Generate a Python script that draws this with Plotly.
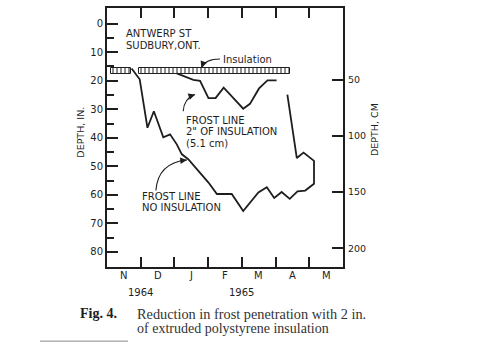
import plotly.graph_objects as go

# ---- data (x in months since 1 Nov 1964, depth in inches) ----
month_labels = ["N", "D", "J", "F", "M", "A", "M"]
year_labels = ["1964", "1965"]
year_pos = [1.0, 4.0]
depth_ticks_in = [0, 10, 20, 30, 40, 50, 60, 70, 80]
depth_minor_in = [5, 15, 25, 35, 45, 55, 65, 75]
depth_ticks_cm = [50, 100, 150, 200]

no_ins_month = [0.73, 0.97, 1.20, 1.39, 1.67, 1.87, 2.07, 2.22, 2.41, 2.71, 3.01, 3.26,
                3.70, 4.04, 4.27, 4.49, 4.74, 4.96, 5.18, 5.42, 5.65, 5.88, 6.14, 6.14,
                5.83, 5.63, 5.35]
no_ins_depth = [15.7, 19.5, 36.5, 30.7, 39.8, 38.8, 42.3, 45.8, 47.5, 51.6, 55.7, 59.7,
                59.7, 65.7, 62.4, 59.2, 57.3, 61.1, 59.0, 61.4, 58.8, 58.5, 56.1, 48.1,
                45.2, 47.1, 24.9]

ins_month = [2.07, 2.37, 2.56, 2.76, 3.01, 3.22, 3.46, 3.75, 4.04, 4.24, 4.51, 4.76, 5.03]
ins_depth = [17.4, 18.8, 19.7, 20.0, 26.1, 26.1, 22.4, 26.1, 29.8, 28.1, 22.7, 19.9, 19.9]

band_start = [0.12, 0.95]
band_end = [0.71, 5.43]
band_top = 15.6
band_bottom = 17.5

Y_RANGE = [85.3, -5.5]
INK = "#1e1e1e"
SANS = "DejaVu Sans, Liberation Sans, Arial, sans-serif"

fig = go.Figure()

# insulation band (hatched)
fig.add_trace(go.Bar(
    orientation="h",
    y=[(band_top + band_bottom) / 2] * len(band_start),
    x=[e - s for s, e in zip(band_start, band_end)],
    base=band_start,
    width=band_bottom - band_top,
    marker=dict(color="white", line=dict(color=INK, width=1),
                pattern=dict(shape="|", size=4, solidity=0.25,
                             fgcolor=INK, bgcolor="white", fillmode="replace")),
    showlegend=False, hoverinfo="skip",
))

fig.add_trace(go.Scatter(x=no_ins_month, y=no_ins_depth, mode="lines",
                         line=dict(color=INK, width=1.8), showlegend=False))
fig.add_trace(go.Scatter(x=ins_month, y=ins_depth, mode="lines",
                         line=dict(color=INK, width=1.8), showlegend=False))
# dummy trace to activate the cm axis
fig.add_trace(go.Scatter(x=[None], y=[None], yaxis="y2", showlegend=False))

annotations = []
def txt(x, y, t, xanchor="left", size=10, xref="x", yref="y", family=SANS, angle=0):
    annotations.append(dict(x=x, y=y, xref=xref, yref=yref, text=t, showarrow=False,
                            xanchor=xanchor, yanchor="middle", textangle=angle,
                            font=dict(family=family, size=size, color=INK)))

txt(0.50, 3.5, "ANTWERP ST")
txt(0.50, 7.5, "SUDBURY,ONT.")
txt(3.38, 12.4, "Insulation")
txt(2.29, 33.8, "FROST LINE")
txt(2.29, 37.7, "2\" OF INSULATION")
txt(2.29, 41.9, "(5.1 cm)")
txt(0.98, 60.5, "FROST LINE")
txt(0.98, 64.3, "NO INSULATION")

# month and year labels
for i, m in enumerate(month_labels):
    txt(i + 0.5, -0.031, m, xanchor="center", yref="paper")
for p, yl in zip(year_pos, year_labels):
    txt(p, -0.098, yl, xanchor="center", yref="paper")

# axis titles
txt(-0.114, 0.519, "DEPTH, IN.", xanchor="center", xref="paper", yref="paper", size=9.5, angle=-90)
txt((375 - 107) / 236, 0.529, "DEPTH, CM", xanchor="center", xref="paper", yref="paper", size=9.5, angle=-90)

# caption
SERIF = "Liberation Serif, Times New Roman, serif"
annotations.append(dict(x=(119 - 107) / 236, y=(267 - 314) / 261, xref="paper", yref="paper",
                        text="<b>Fig. 4.</b>", showarrow=False, xanchor="right", yanchor="middle",
                        font=dict(family=SERIF, size=14, color=INK)))
annotations.append(dict(x=(135 - 107) / 236, y=(267 - 314) / 261, xref="paper", yref="paper",
                        text="Reduction in frost penetration with 2 in.", showarrow=False,
                        xanchor="left", yanchor="middle",
                        font=dict(family=SERIF, size=14.3, color="#333")))
annotations.append(dict(x=(135 - 107) / 236, y=(267 - 329) / 261, xref="paper", yref="paper",
                        text="of extruded polystyrene insulation", showarrow=False,
                        xanchor="left", yanchor="middle",
                        font=dict(family=SERIF, size=14, color="#333")))

# leader curves (start, control, end) and arrowheads
leaders = [
    ((3.35, 12.4), (2.91, 12.4), (2.80, 15.5), (2.8, -7.5)),
    ((2.26, 30.7), (2.28, 26.2), (2.61, 24.8), (-7.5, 2.7)),
    ((1.45, 58.5), (1.51, 48.8), (2.37, 47.8), (-8.0, 0.8)),
]
shapes = []
for s, c, e, off in leaders:
    shapes.append(dict(type="path", xref="x", yref="y",
                       path=f"M {s[0]},{s[1]} Q {c[0]},{c[1]} {e[0]},{e[1]}",
                       line=dict(color=INK, width=1.1)))
    annotations.append(dict(x=e[0], y=e[1], xref="x", yref="y", ax=off[0], ay=off[1],
                            text="", showarrow=True, arrowhead=2, arrowsize=1.2,
                            arrowwidth=1.1, arrowcolor=INK))

shapes.append(dict(type="line", xref="paper", yref="paper",
                   x0=(40 - 107) / 236, x1=(128 - 107) / 236,
                   y0=(267 - 341.7) / 261, y1=(267 - 341.7) / 261,
                   line=dict(color="#888", width=1)))

fig.update_layout(
    width=492, height=349,
    margin=dict(l=107, r=149, t=6, b=82),
    paper_bgcolor="white", plot_bgcolor="white",
    showlegend=False, bargap=0,
    annotations=annotations, shapes=shapes,
    xaxis=dict(range=[0, 7], tickvals=[1, 2, 3, 4, 5, 6], ticks="inside", ticklen=10,
               tickwidth=1.5, tickcolor=INK, showticklabels=False, showgrid=False,
               zeroline=False, showline=True, linecolor=INK, linewidth=2, mirror="ticks"),
    yaxis=dict(range=Y_RANGE, tickvals=depth_ticks_in, ticks="inside", ticklen=11,
               tickwidth=1.5, tickcolor=INK, showgrid=False, zeroline=False,
               showline=True, linecolor=INK, linewidth=2, mirror=True,
               tickfont=dict(family=SANS, size=10, color=INK),
               minor=dict(tickvals=depth_minor_in, ticks="inside", ticklen=7,
                          tickwidth=1.5, tickcolor=INK)),
    yaxis2=dict(range=[v * 2.54 for v in Y_RANGE], overlaying="y", side="right",
                tickvals=depth_ticks_cm, ticks="inside", ticklen=11, tickwidth=1.5,
                tickcolor=INK, showgrid=False, zeroline=False, showline=True,
                linecolor=INK, linewidth=2, ticklabelstandoff=1,
                tickfont=dict(family=SANS, size=9.5, color=INK)),
)

fig.write_html("out.html")
